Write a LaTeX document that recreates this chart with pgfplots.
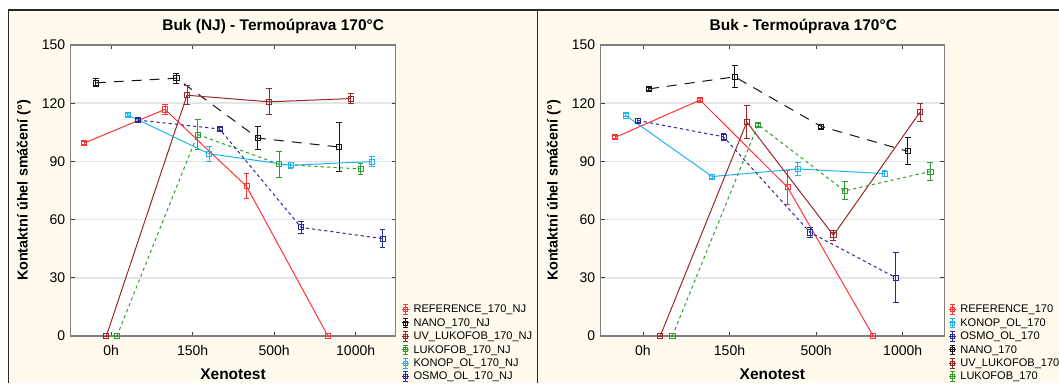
\documentclass[border=0pt]{standalone}
\usepackage{fontspec}
\setmainfont{Liberation Sans}
\usepackage{pgfplots}
\pgfplotsset{compat=1.18}
\usepackage{pgfplotstable}

\definecolor{cream}{HTML}{FFF9EE}
\definecolor{cref}{HTML}{FF3535}
\definecolor{cnano}{HTML}{151515}
\definecolor{cuv}{HTML}{9A2828}
\definecolor{cluk}{HTML}{2E9E2E}
\definecolor{ckon}{HTML}{22B4F0}
\definecolor{cosmo}{HTML}{2A2A9A}

% ---- left panel data (x = category + offset, y, error) ----
\pgfplotstableread{
x y e
-0.33 99.5 0.8
0.66 116.8 2.4
1.66 77.2 6.5
2.66 0 0
}\LRef
\pgfplotstableread{
x y e
-0.19 130.5 2
0.80 132.9 2.6
1.80 102.0 6
2.80 97.4 12.5
}\LNano
\pgfplotstableread{
x y e
-0.06 0 0
0.93 124.1 5
1.94 120.7 6.7
2.94 122.4 2.8
}\LUv
\pgfplotstableread{
x y e
0.07 0 0
1.06 103.9 7.9
2.06 88.5 6.6
3.06 86.1 2.6
}\LLuk
\pgfplotstableread{
x y e
0.20 114.0 0.8
1.20 94.0 3.8
2.20 88.0 1.5
3.20 89.9 2.7
}\LKon
\pgfplotstableread{
x y e
0.33 111.3 0.8
1.33 106.7 0.8
2.33 56.0 3.2
3.33 50.2 4.8
}\LOsmo

% ---- right panel data ----
\pgfplotstableread{
x y e
-0.32 102.4 0.8
0.66 121.6 0.8
1.67 76.7 8.7
2.66 0 0
}\RRef
\pgfplotstableread{
x y e
-0.20 113.7 0.8
0.80 82.2 0.8
1.79 86.1 3.4
2.79 83.7 1.5
}\RKon
\pgfplotstableread{
x y e
-0.06 111.1 0.8
0.93 102.7 1.9
1.93 53.4 2.6
2.92 30.1 12.7
}\ROsmo
\pgfplotstableread{
x y e
0.07 127.4 0.8
1.06 133.6 5.7
2.06 108.0 0.8
3.06 95.2 7
}\RNano
\pgfplotstableread{
x y e
0.20 0 0
1.20 110.3 8.5
2.20 51.9 2.7
3.20 115.4 4.7
}\RUv
\pgfplotstableread{
x y e
0.34 0 0
1.33 108.9 0.8
2.33 74.8 4.6
3.32 84.8 4.5
}\RLuk

\pgfplotsset{
  base/.style={
    scale only axis, clip=false,
    ymin=0, ymax=150, ytick={0,30,60,90,120,150},
    xtick={0,1,2,3}, xticklabels={0h,150h,500h,1000h},
    ymajorgrids, major grid style={line width=1.1pt, color=black!10},
    axis line style={draw=black!50, line width=1.1pt},
    axis background/.style={fill=white},
    tick align=inside, major tick length=3pt,
    tick style={draw=black!75, line width=0.6pt},
    /pgf/number format/assume math mode=true,
    ticklabel style={font=\fontsize{10.5}{12}\selectfont},
    xticklabel style={yshift=-3.5pt},
    yticklabel style={xshift=-0.5pt},
    title style={font=\bfseries\fontsize{11.6}{13}\selectfont, anchor=center},
    xlabel={Xenotest},
    xlabel style={font=\bfseries\fontsize{11.6}{13}\selectfont, at={(axis description cs:0.5,0)}, anchor=center, yshift=-28.7pt},
    ylabel={Kontaktní úhel smáčení (°)},
    ylabel style={font=\bfseries\fontsize{10.8}{13}\selectfont, anchor=center},
    legend cell align=left,
    legend style={draw=none, fill=none, anchor=north west, inner sep=0pt,
      font=\fontsize{8.3}{9}\selectfont,
      nodes={inner sep=0pt, text height=6.5pt, text depth=1.7pt},
      row sep=1.9pt,
      /tikz/every odd column/.append style={column sep=3pt}},
    legend image code/.code={
      \draw[#1,solid,mark=none] (0pt,0pt) -- (5.5pt,0pt);
      \draw[#1,solid,mark=none] (2.75pt,-3.6pt) -- (2.75pt,3.6pt);
      \draw[#1,solid,mark=none] (1pt,3.6pt) -- (4.5pt,3.6pt);
      \draw[#1,solid,mark=none] (1pt,-3.6pt) -- (4.5pt,-3.6pt);
      \path[#1,mark size=1.5pt] plot coordinates {(2.75pt,0pt)};
    },
  },
  ser/.style={line width=0.75pt, mark=square, mark size=1.9pt,
    mark options={solid, line width=0.6pt},
    error bars/y dir=both, error bars/y explicit,
    error bars/error bar style={solid, line width=0.75pt},
    error bars/error mark options={solid, line width=0.75pt, mark size=2.2pt, rotate=90}},
  sref/.style={ser, color=cref},
  snano/.style={ser, color=cnano, dash pattern=on 7.5pt off 6pt},
  suv/.style={ser, color=cuv},
  sluk/.style={ser, color=cluk, dash pattern=on 2.4pt off 2.4pt},
  skon/.style={ser, color=ckon},
  sosmo/.style={ser, color=cosmo, dash pattern=on 2.4pt off 2.2pt},
}

\begin{document}
\begin{tikzpicture}
\clip (0pt,0pt) rectangle (794.25pt,287.25pt);
\fill[white] (0pt,0pt) rectangle (794.25pt,287.25pt);
\fill[cream] (6.2pt,0pt) rectangle (794.25pt,279.75pt);
\draw[black!85, line width=0.8pt] (6.2pt,0pt) -- (6.2pt,279.75pt) -- (794.25pt,279.75pt);
\draw[black!85, line width=0.8pt] (403.3pt,0pt) -- (403.3pt,279.75pt);

\begin{axis}[base, at={(52.875pt,35.25pt)}, anchor=south west,
  width=243.8pt, height=218.25pt, xmin=-0.5, xmax=3.49,
  title={Buk (NJ) - Termoúprava 170°C},
  title style={at={(axis description cs:0.6235,1)}, yshift=7.7pt},
  ylabel style={at={(axis description cs:-0.144,0.5)}},
  legend style={at={(axis description cs:1.0166,0.111)}}]
\addplot[sref] table[x=x,y=y,y error=e]{\LRef};
\addlegendentry{REFERENCE\_170\_NJ}
\addplot[snano] table[x=x,y=y,y error=e]{\LNano};
\addlegendentry{NANO\_170\_NJ}
\addplot[suv] table[x=x,y=y,y error=e]{\LUv};
\addlegendentry{UV\_LUKOFOB\_170\_NJ}
\addplot[sluk] table[x=x,y=y,y error=e]{\LLuk};
\addlegendentry{LUKOFOB\_170\_NJ}
\addplot[skon] table[x=x,y=y,y error=e]{\LKon};
\addlegendentry{KONOP\_OL\_170\_NJ}
\addplot[sosmo] table[x=x,y=y,y error=e]{\LOsmo};
\addlegendentry{OSMO\_OL\_170\_NJ}
\end{axis}

\begin{axis}[base, at={(450.375pt,35.25pt)}, anchor=south west,
  width=257.8pt, height=218.25pt, xmin=-0.49, xmax=3.48,
  title={Buk - Termoúprava 170°C},
  title style={at={(axis description cs:0.590,1)}, yshift=7.7pt},
  ylabel style={at={(axis description cs:-0.136,0.5)}},
  legend style={at={(axis description cs:1.0102,0.111)}}]
\addplot[sref] table[x=x,y=y,y error=e]{\RRef};
\addlegendentry{REFERENCE\_170}
\addplot[skon] table[x=x,y=y,y error=e]{\RKon};
\addlegendentry{KONOP\_OL\_170}
\addplot[sosmo] table[x=x,y=y,y error=e]{\ROsmo};
\addlegendentry{OSMO\_OL\_170}
\addplot[snano] table[x=x,y=y,y error=e]{\RNano};
\addlegendentry{NANO\_170}
\addplot[suv] table[x=x,y=y,y error=e]{\RUv};
\addlegendentry{UV\_LUKOFOB\_170}
\addplot[sluk] table[x=x,y=y,y error=e]{\RLuk};
\addlegendentry{LUKOFOB\_170}
\end{axis}
\end{tikzpicture}
\end{document}
